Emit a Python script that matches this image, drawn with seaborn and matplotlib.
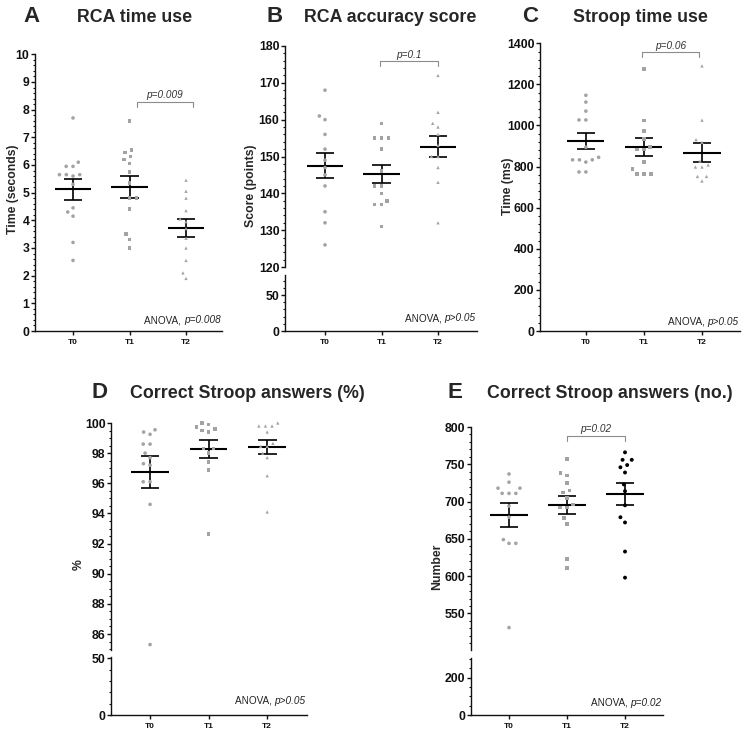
import numpy as np
import pandas as pd
import seaborn as sns
import matplotlib.pyplot as plt
from matplotlib.ticker import MultipleLocator

sns.set_style("ticks")
plt.rcParams["font.family"] = ["Liberation Sans", "DejaVu Sans"]
plt.rcParams["font.weight"] = "bold"
plt.rcParams["xtick.color"] = "#111111"
plt.rcParams["ytick.color"] = "#111111"

W, H = 747, 740
times = ["T0", "T1", "T2"]

# A - RCA time use (seconds)
rca_time_t0 = [7.7, 6.1, 5.95, 5.95, 5.65, 5.65, 5.65, 5.6, 5.3, 4.45, 4.3, 4.15, 3.2, 2.55]
rca_time_t1 = [7.6, 6.55, 6.45, 6.3, 6.2, 6.05, 5.75, 5.35, 4.8, 4.8, 4.4, 3.5, 3.3, 3.0]
rca_time_t2 = [5.45, 5.05, 4.8, 4.35, 4.05, 3.95, 3.7, 3.35, 3.0, 2.55, 2.1, 1.9]
rca_time_mean = [5.12, 5.21, 3.72]
rca_time_sem = [0.37, 0.39, 0.33]

# B - RCA accuracy score (points)
rca_acc_t0 = [168, 161, 160, 156, 152, 149, 147, 145, 142, 135, 132, 126]
rca_acc_t1 = [159, 155, 155, 155, 152, 146, 142, 142, 140, 138, 137, 137, 131]
rca_acc_t2 = [172, 162, 159, 158, 156, 153, 150, 150, 147, 143, 132]
rca_acc_mean = [147.55, 145.35, 152.7]
rca_acc_sem = [3.45, 2.45, 2.9]

# C - Stroop time use (ms)
stroop_time_t0 = [1147, 1114, 1070, 1027, 1027, 894, 845, 833, 833, 833, 822, 774, 774]
stroop_time_t1 = [1274, 1024, 973, 933, 896, 883, 883, 822, 787, 763, 763, 763]
stroop_time_t2 = [1290, 1026, 931, 918, 827, 808, 798, 798, 752, 752, 730]
stroop_time_mean = [924, 896.5, 868.5]
stroop_time_sem = [38, 42.5, 46.5]

# D - Correct Stroop answers (%)
stroop_pct_t0 = [99.55, 99.4, 99.25, 98.6, 98.6, 98.0, 97.7, 97.3, 97.2, 96.1, 96.1, 94.6, 85.3]
stroop_pct_t1 = [100.0, 99.9, 99.75, 99.6, 99.5, 99.4, 98.3, 98.3, 98.0, 97.4, 96.9, 92.65]
stroop_pct_t2 = [100.0, 99.8, 99.8, 99.8, 99.4, 98.65, 98.45, 98.45, 98.0, 97.7, 96.5, 94.1]
stroop_pct_mean = [96.75, 98.3, 98.4]
stroop_pct_sem = [1.04, 0.6, 0.48]

# E - Correct Stroop answers (no.)
stroop_no_t0 = [737, 726, 718, 718, 711, 711, 711, 694, 679, 649, 644, 644, 531]
stroop_no_t1 = [757, 738, 735, 725, 715, 712, 705, 696, 692, 692, 678, 670, 623, 611]
stroop_no_t2 = [766, 756, 756, 749, 746, 739, 723, 714, 695, 679, 672, 633, 598]
stroop_no_mean = [682, 695.4, 709.8]
stroop_no_sem = [15.5, 11.9, 14.6]

GREY = "#a3a3a3"
BRACKET = "#8c8c8c"


def box(x0, y0, x1, y1):
    return [x0 / W, 1 - y1 / H, (x1 - x0) / W, (y1 - y0) / H]


def style_axis(ax, major, minor, xaxis=True):
    ax.yaxis.set_major_locator(MultipleLocator(major))
    ax.yaxis.set_minor_locator(MultipleLocator(minor))
    ax.tick_params(axis="y", which="major", length=3, width=1, pad=1,
                   labelsize=8.8)
    ax.tick_params(axis="y", which="minor", length=1.8, width=0.8)
    ax.spines["right"].set_visible(False)
    ax.spines["top"].set_visible(False)
    ax.spines["left"].set_linewidth(1)
    ax.spines["left"].set_color("#111111")
    if xaxis:
        ax.spines["bottom"].set_linewidth(1)
        ax.spines["bottom"].set_color("#111111")
        ax.tick_params(axis="x", length=3, width=1, pad=3, labelsize=6)
        ax.set_xticks([0, 1, 2])
        ax.set_xticklabels(times)
    else:
        ax.spines["bottom"].set_visible(False)
        ax.tick_params(axis="x", bottom=False, labelbottom=False)
    ax.set_xlabel("")
    ax.set_ylabel("")


def points(ax, groups, markers, colors, sizes):
    for t, vals, m, c, s in zip(times, groups, markers, colors, sizes):
        df = pd.DataFrame({"time": t, "value": vals})
        sns.swarmplot(data=df, x="time", y="value", order=times, marker=m,
                      color=c, size=s, edgecolor="none", linewidth=2.1,
                      ax=ax, zorder=3)
    for coll in ax.collections:
        if len(coll.get_offsets()) > 0:
            coll.set_clip_on(False)


def mean_sem(ax, means, sems):
    pos = np.arange(3)
    means = np.array(means)
    sems = np.array(sems)
    ax.hlines(means, pos - 0.32, pos + 0.32, color="black", lw=1.5, zorder=2)
    ax.vlines(pos, means - sems, means + sems, color="black", lw=1.2, zorder=2)
    ax.hlines(means + sems, pos - 0.16, pos + 0.16, color="black", lw=1.2, zorder=2)
    ax.hlines(means - sems, pos - 0.16, pos + 0.16, color="black", lw=1.2, zorder=2)


def bracket(ax, x0, x1, y, tick, label):
    ax.plot([x0, x0, x1, x1], [y - tick, y, y, y - tick], color=BRACKET,
            lw=0.8, clip_on=False)
    ax.annotate(label, xy=((x0 + x1) / 2, y), xytext=(0, 2.5),
                textcoords="offset points", ha="center", va="baseline",
                fontsize=7.2, style="italic", fontweight="normal",
                color="#333333")


def anova(ax, pval, off):
    t = ax.annotate(pval, xy=(1, 0), xycoords="axes fraction",
                    xytext=(-1, off), textcoords="offset points",
                    ha="right", va="baseline", fontsize=7.2, style="italic",
                    fontweight="normal", color="#222222")
    ax.annotate("ANOVA, ", xy=(0, 0), xycoords=t, ha="right", va="bottom",
                fontsize=7.2, fontweight="normal", color="#222222")


def titles(letter, lx, ttl, tx, base):
    fig.text(lx / W, 1 - base / H, letter, ha="center", va="baseline",
             fontsize=16, fontweight="bold")
    fig.text(tx / W, 1 - base / H, ttl, ha="center", va="baseline",
             fontsize=12.8, fontweight="bold")


def ylab(x, y, text):
    fig.text(x / W, 1 - y / H, text, rotation=90, ha="center", va="center",
             fontsize=8.8, fontweight="bold")


fig = plt.figure(figsize=(W / 100, H / 100), dpi=100)

# ---- A
axA = fig.add_axes(box(35, 54.3, 222, 331))
points(axA, [rca_time_t0, rca_time_t1, rca_time_t2], ["o", "s", "^"],
       [GREY, GREY, GREY], [2.6, 2.6, 2.4])
mean_sem(axA, rca_time_mean, rca_time_sem)
axA.set_xlim(-0.673, 2.637)
axA.set_ylim(0, 10)
style_axis(axA, 1, 0.2)
bracket(axA, 1.13, 2.12, 8.29, 0.19, "p=0.009")
anova(axA, "p=0.008", 5.5)
titles("A", 31.5, "RCA time use", 134.5, 21.5)
ylab(13, 189, "Time (seconds)")

# ---- B
axB = fig.add_axes(box(285, 46, 477, 267))
points(axB, [rca_acc_t0, rca_acc_t1, rca_acc_t2], ["o", "s", "^"],
       [GREY, GREY, GREY], [2.6, 2.6, 2.4])
mean_sem(axB, rca_acc_mean, rca_acc_sem)
axB.set_xlim(-0.708, 2.69)
axB.set_ylim(120, 180)
style_axis(axB, 10, 2, xaxis=False)
bracket(axB, 0.98, 2.0, 175.9, 1.3, "p=0.1")
axB2 = fig.add_axes(box(285, 275, 477, 331))
axB2.set_xlim(-0.708, 2.69)
axB2.set_ylim(0, 78)
style_axis(axB2, 50, 10)
anova(axB2, "p>0.05", 7)
titles("B", 275, "RCA accuracy score", 390, 21.5)
ylab(251, 186, "Score (points)")

# ---- C
axC = fig.add_axes(box(540, 43.3, 740, 331))
points(axC, [stroop_time_t0, stroop_time_t1, stroop_time_t2], ["o", "s", "^"],
       [GREY, GREY, GREY], [2.6, 2.6, 2.4])
mean_sem(axC, stroop_time_mean, stroop_time_sem)
axC.set_xlim(-0.79, 2.655)
axC.set_ylim(0, 1400)
style_axis(axC, 200, 40)
bracket(axC, 0.966, 1.95, 1356, 25, "p=0.06")
anova(axC, "p>0.05", 4.5)
titles("C", 530, "Stroop time use", 640, 21.5)
ylab(508, 186, "Time (ms)")

# ---- D
axD = fig.add_axes(box(111, 423, 307, 650))
points(axD, [stroop_pct_t0, stroop_pct_t1, stroop_pct_t2], ["o", "s", "^"],
       [GREY, GREY, GREY], [2.6, 2.6, 2.4])
mean_sem(axD, stroop_pct_mean, stroop_pct_sem)
axD.set_xlim(-0.667, 2.68)
axD.set_ylim(84.94, 100)
style_axis(axD, 2, 0.5, xaxis=False)
axD2 = fig.add_axes(box(111, 657, 307, 715))
axD2.set_xlim(-0.667, 2.68)
axD2.set_ylim(0, 51)
style_axis(axD2, 50, 10)
anova(axD2, "p>0.05", 8)
titles("D", 99.5, "Correct Stroop answers (%)", 247, 397.5)
ylab(79, 565, "%")

# ---- E
axE = fig.add_axes(box(471, 427, 663, 650))
points(axE, [stroop_no_t0, stroop_no_t1, stroop_no_t2], ["o", "s", "o"],
       [GREY, GREY, "black"], [2.6, 2.6, 2.8])
mean_sem(axE, stroop_no_mean, stroop_no_sem)
axE.set_xlim(-0.655, 2.655)
axE.set_ylim(501, 800)
style_axis(axE, 50, 10, xaxis=False)
bracket(axE, 1.005, 2.0, 788.3, 7, "p=0.02")
axE2 = fig.add_axes(box(471, 658, 663, 715))
axE2.set_xlim(-0.655, 2.655)
axE2.set_ylim(0, 305)
style_axis(axE2, 200, 50)
anova(axE2, "p=0.02", 6.5)
titles("E", 455, "Correct Stroop answers (no.)", 610, 397.5)
ylab(437, 567, "Number")

fig.savefig("out.png", dpi=100)
